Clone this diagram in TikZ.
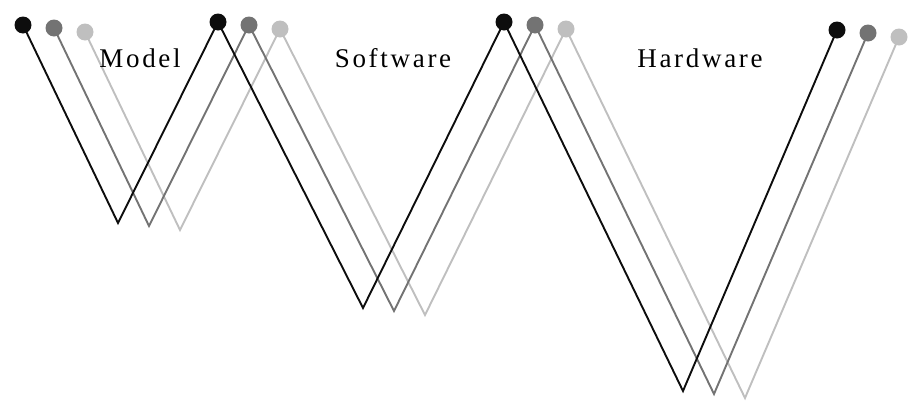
\documentclass[tikz,border=0pt]{standalone}
\usepackage{fontspec}
\setmainfont{Liberation Serif}
\newfontfamily\capfont[LetterSpace=10]{Liberation Serif}
\begin{document}
\begin{tikzpicture}[x=1pt,y=-1pt,
  wire/.style={line width=1.9pt, line join=miter},
  pin/.style={circle, inner sep=0pt, minimum size=17pt},
  caption/.style={font=\capfont\fontsize{27}{30}\selectfont, inner sep=0pt, anchor=base}]
\useasboundingbox (0,0) rectangle (922,410);
\definecolor{inkA}{gray}{0.05}
\definecolor{inkB}{gray}{0.45}
\definecolor{inkC}{gray}{0.75}

% three zig-zag traces, each shifted right and slightly down
\foreach \s/\c/\dx/\dy in {C/inkC/62/7, B/inkB/31/3, A/inkA/0/0}{
  \begin{scope}[shift={(\dx,\dy)}]
    \coordinate (t1\s) at (23,25);
    \coordinate (b1\s) at (118,223);
    \coordinate (t2\s) at (218,22);
    \coordinate (b2\s) at (363,308);
    \coordinate (t3\s) at (504,22);
    \coordinate (b3\s) at (683,391);
    \coordinate (t4\s) at (837,30);
    \draw[wire, \c] (t1\s) -- (b1\s) -- (t2\s) -- (b2\s) -- (t3\s) -- (b3\s) -- (t4\s);
    \foreach \k in {1,...,4}{
      \node[pin, fill=\c] (p\k\s) at (t\k\s) {};
    }
  \end{scope}
}

\node[caption] (model) at (140,67) {Model};
\node[caption] (software) at (393,67) {Software};
\node[caption] (hardware) at (700,67) {Hardware};
\end{tikzpicture}
\end{document}
